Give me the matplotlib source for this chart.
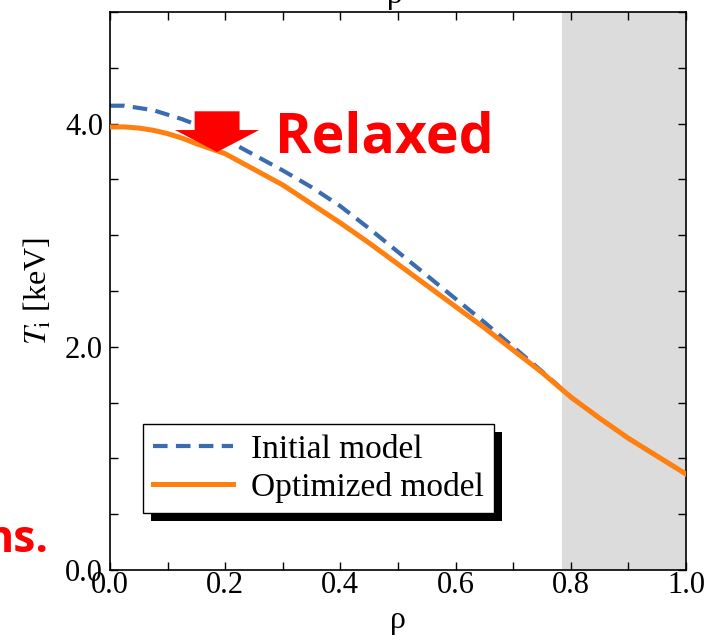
import numpy as np
import matplotlib
matplotlib.use('Agg')
import matplotlib.pyplot as plt
from matplotlib.patches import Polygon, Rectangle
from matplotlib.ticker import MultipleLocator, FormatStrFormatter

plt.rcParams['font.family'] = ['Liberation Serif', 'DejaVu Serif']
plt.rcParams['mathtext.fontset'] = 'stix'

# ion temperature profiles vs normalized radius
rho = [0.00, 0.025, 0.05, 0.075, 0.10, 0.125, 0.15, 0.175, 0.20, 0.25, 0.30, 0.35, 0.40,
       0.45, 0.50, 0.55, 0.60, 0.65, 0.70, 0.75, 0.80, 0.85, 0.90, 0.95, 1.00]
ti_initial = [4.16, 4.16, 4.14, 4.12, 4.08, 4.04, 3.99, 3.93, 3.86, 3.72, 3.58, 3.43, 3.26,
              3.06, 2.85, 2.64, 2.43, 2.22, 2.00, 1.78, 1.55, 1.36, 1.18, 1.02, 0.86]
ti_optimized = [3.97, 3.97, 3.96, 3.94, 3.91, 3.87, 3.82, 3.775, 3.73, 3.59, 3.45, 3.28, 3.11,
                2.93, 2.74, 2.55, 2.36, 2.17, 1.97, 1.77, 1.55, 1.36, 1.18, 1.02, 0.86]
edge_start = 0.784

blue = '#3b6cb0'
orange = '#ff800e'

fig = plt.figure(figsize=(7.09, 6.4), dpi=100)
ax = fig.add_axes([0.1551, 0.1094, 0.8124, 0.8719])

ax.axvspan(edge_start, 1.0, color='#dcdcdc', lw=0, zorder=0)
ax.plot(rho, ti_initial, '--', color=blue, lw=3.0, dashes=(3.5, 2), label='Initial model',
        zorder=2, solid_joinstyle='round')
ax.plot(rho, ti_optimized, '-', color=orange, lw=3.6, label='Optimized model', zorder=3,
        solid_joinstyle='round')

ax.set_xlim(0, 1.0)
ax.set_ylim(0, 5.0)
ax.xaxis.set_major_locator(MultipleLocator(0.2))
ax.xaxis.set_minor_locator(MultipleLocator(0.1))
ax.yaxis.set_major_locator(MultipleLocator(2.0))
ax.yaxis.set_minor_locator(MultipleLocator(0.5))
ax.xaxis.set_major_formatter(FormatStrFormatter('%.1f'))
ax.yaxis.set_major_formatter(FormatStrFormatter('%.1f'))
ax.tick_params(which='both', direction='in', top=True, right=True, length=6, width=1.0, labelsize=22)
ax.tick_params(axis='x', pad=1)
ax.tick_params(axis='y', pad=5)
for s in ax.spines.values():
    s.set_linewidth(1.2)

ax.set_xlabel('ρ', fontsize=23, labelpad=4)
ax.set_ylabel(r'$T_\mathrm{i}$ [keV]', fontsize=23, labelpad=8)

leg = ax.legend(loc='lower left', bbox_to_anchor=(0.057, 0.102), fontsize=24, frameon=True,
                fancybox=False, edgecolor='black', framealpha=1, handlelength=2.4,
                handletextpad=0.55, borderpad=0.3, labelspacing=0.22, borderaxespad=0)
leg.get_frame().set_linewidth(1.0)
leg.set_zorder(6)

# down arrow marking the relaxed profile
ax_x, top_y, tip_y = 0.186, 4.11, 3.745
stem_hw, head_hw, head_len = 0.039, 0.073, 0.197
arrow = Polygon([[ax_x - stem_hw, top_y], [ax_x + stem_hw, top_y],
                 [ax_x + stem_hw, tip_y + head_len], [ax_x + head_hw, tip_y + head_len],
                 [ax_x, tip_y], [ax_x - head_hw, tip_y + head_len],
                 [ax_x - stem_hw, tip_y + head_len]], closed=True, color='#ff0000', lw=0, zorder=4)
ax.add_patch(arrow)
ax.text(0.286, 3.745, 'Relaxed', color='#ff0000', fontsize=40, fontweight='bold',
        family=['Open Sans', 'DejaVu Sans'], va='baseline', ha='left', zorder=5)

fig.text(48 / 709, 88 / 640, 'ns.', color='#ff0000', fontsize=32, fontweight='bold',
         family=['Open Sans', 'DejaVu Sans'], ha='right', va='baseline')
fig.text(395 / 709, 1 - 3 / 640, 'ρ', fontsize=23, ha='center', va='baseline')

# black drop shadow behind the legend box
fig.canvas.draw()
bb = leg.get_window_extent()
shadow = Rectangle((bb.x0 + 8, bb.y0 - 8), bb.width, bb.height, transform=None,
                   facecolor='black', edgecolor='none', zorder=5)
ax.add_artist(shadow)

fig.savefig('out.png', dpi=100)
